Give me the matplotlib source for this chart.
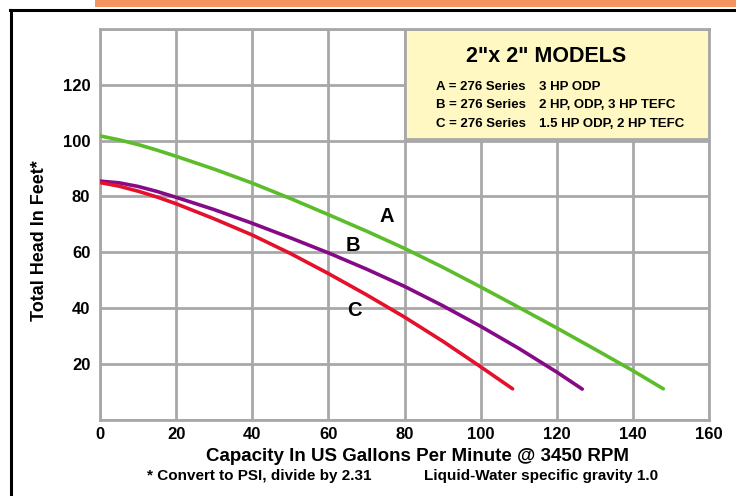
import matplotlib
matplotlib.use("Agg")
import matplotlib.pyplot as plt
from matplotlib import font_manager
from matplotlib.patches import Rectangle
from matplotlib.lines import Line2D

# ---------------- data ----------------
gpm_a = [0, 5, 10, 15, 20, 30, 40, 50, 60, 70, 80, 90, 100, 110, 120, 130, 140, 148]
head_a = [101.7, 100.3, 98.6, 96.6, 94.4, 89.8, 84.8, 79.3, 73.5, 67.6, 61.4, 54.7, 47.6,
          40.3, 32.9, 25.3, 17.6, 11.1]

gpm_b = [0, 5, 10, 15, 20, 30, 40, 50, 60, 70, 80, 90, 100, 110, 120, 126.7]
head_b = [85.5, 84.9, 83.6, 81.8, 79.7, 75.3, 70.4, 65.2, 59.8, 54.0, 47.8, 40.9, 33.5,
          25.6, 17.1, 11.0]

gpm_c = [0, 5, 10, 15, 20, 30, 40, 50, 60, 70, 80, 90, 100, 108.4]
head_c = [85.0, 83.7, 81.9, 79.8, 77.4, 72.0, 66.2, 59.6, 52.4, 44.8, 36.8, 28.2, 19.0, 11.1]

x_ticks = [0, 20, 40, 60, 80, 100, 120, 140, 160]
y_ticks = [20, 40, 60, 80, 100, 120]
y_grid = [0, 20, 40, 60, 80, 100, 120, 140]

curve_labels = ["A", "B", "C"]
curve_label_pos = [(75.4, 72.8), (66.4, 62.6), (66.7, 39.0)]

legend_title = '2"x 2" MODELS'
legend_left = ["A = 276 Series", "B = 276 Series", "C = 276 Series"]
legend_right = ["3 HP ODP", "2 HP, ODP, 3 HP TEFC", "1.5 HP ODP, 2 HP TEFC"]

x_label = "Capacity In US Gallons Per Minute @ 3450 RPM"
y_label = "Total Head In Feet*"
note_left = "* Convert to PSI, divide by 2.31"
note_right = "Liquid-Water specific gravity 1.0"

# ---------------- fonts ----------------
avail = {f.name for f in font_manager.fontManager.ttflist}
def pick(*names):
    for n in names:
        if n in avail:
            return n
    return "DejaVu Sans"
NARROW = pick("Liberation Sans Narrow", "Liberation Sans")
WIDE = pick("Liberation Sans", "DejaVu Sans")

# ---------------- colours ----------------
GREEN = "#5cbd2b"
PURPLE = "#860a86"
RED = "#e5102c"
GRID = "#a8a8a8"
ORANGE = "#f19461"
LEGEND_BG = "#fff8c2"

W, H = 736, 496
fig = plt.figure(figsize=(W / 100, H / 100), dpi=100)
fig.patch.set_facecolor("white")

def fx(px):
    return px / W
def fy(py):
    return 1 - py / H

ax_l, ax_r, ax_t, ax_b = 100, 709, 29, 419.8
ax = fig.add_axes([fx(ax_l), fy(ax_b), fx(ax_r) - fx(ax_l), fy(ax_t) - fy(ax_b)])
ax.set_xlim(0, 160)
ax.set_ylim(0, 140)

for s in ax.spines.values():
    s.set_color(GRID)
    s.set_linewidth(2)

for x in x_ticks:
    ax.axvline(x, color=GRID, lw=2, zorder=1)
for y in y_grid:
    ax.axhline(y, color=GRID, lw=2, zorder=1)

ax.set_xticks(x_ticks)
ax.set_yticks(y_ticks)
ax.tick_params(length=0)
ax.tick_params(axis="x", pad=5)
ax.tick_params(axis="y", pad=7)
for lab in ax.get_xticklabels() + ax.get_yticklabels():
    lab.set_fontfamily(NARROW)
    lab.set_fontweight("bold")
    lab.set_fontsize(12)

ax.plot(gpm_a, head_a, color=GREEN, lw=2.6, solid_capstyle="round", zorder=3)
ax.plot(gpm_b, head_b, color=PURPLE, lw=2.6, solid_capstyle="round", zorder=3)
ax.plot(gpm_c, head_c, color=RED, lw=2.6, solid_capstyle="round", zorder=3)

for lab, (lx, ly) in zip(curve_labels, curve_label_pos):
    ax.text(lx, ly, lab, fontfamily=WIDE, fontweight="bold", fontsize=14.5,
            ha="center", va="center", zorder=4)

# legend box in data coords
ax.add_patch(Rectangle((80, 100.6), 80, 39.4, facecolor=LEGEND_BG, edgecolor=GRID,
                       lw=2, zorder=2))
fig.text(fx(546), fy(56), legend_title, fontfamily=WIDE, fontweight="bold",
         fontsize=15.5, ha="center", va="center")
for i, (l1, l2) in enumerate(zip(legend_left, legend_right)):
    yy = fy(87 + i * 18.3)
    fig.text(fx(436), yy, l1, fontfamily=NARROW, fontweight="bold", fontsize=9.5,
             ha="left", va="center")
    fig.text(fx(539), yy, l2, fontfamily=NARROW, fontweight="bold", fontsize=9.5,
             ha="left", va="center")

# axis labels
fig.text(fx(417), fy(461), x_label, fontfamily=NARROW, fontweight="bold",
         fontsize=13.5, ha="center", va="baseline")
fig.text(fx(40), fy(241), y_label, fontfamily=NARROW, fontweight="bold",
         fontsize=13, ha="center", va="center", rotation=90)
fig.text(fx(147), fy(476), note_left, fontfamily=NARROW, fontweight="bold",
         fontsize=11, ha="left", va="center")
fig.text(fx(424), fy(476), note_right, fontfamily=NARROW, fontweight="bold",
         fontsize=11, ha="left", va="center")

# decorative frame and orange header bar
fig.patches.append(Rectangle((fx(95), fy(7)), 1 - fx(95), fy(0) - fy(7),
                             transform=fig.transFigure, facecolor=ORANGE,
                             edgecolor="none", figure=fig))
fig.lines.append(Line2D([fx(10), 1], [fy(9.5), fy(9.5)], transform=fig.transFigure,
                        color="black", lw=2.2, figure=fig))
fig.lines.append(Line2D([fx(10.5), fx(10.5)], [fy(9.5), 0], transform=fig.transFigure,
                        color="black", lw=2.2, figure=fig))

fig.savefig("out.png", dpi=100)
